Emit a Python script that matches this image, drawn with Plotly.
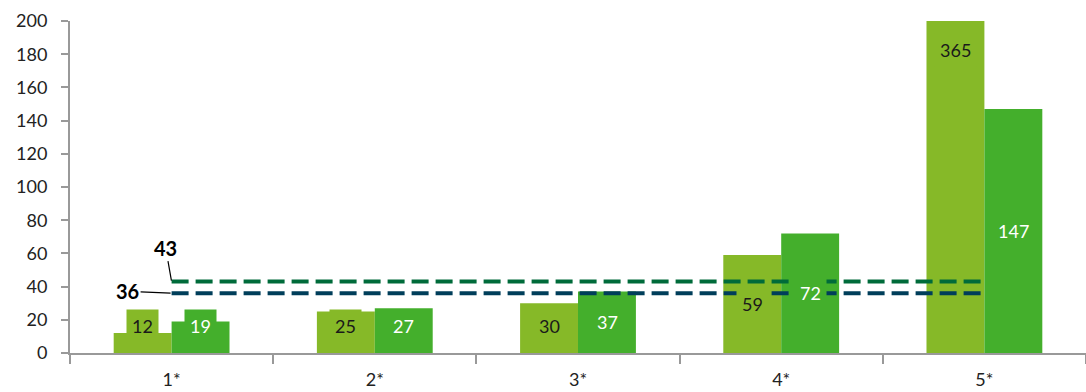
import plotly.graph_objects as go

categories = ["1*", "2*", "3*", "4*", "5*"]
series_a = [12, 25, 30, 59, 365]
series_b = [19, 27, 37, 72, 147]
line_high = 43
line_low = 36
y_ticks = [0, 20, 40, 60, 80, 100, 120, 140, 160, 180, 200]

col_a = "#86B928"
col_b = "#44AF2C"
col_high = "#006B3A"
col_low = "#003E5A"
FONT = "Lato"

fig = go.Figure()
fig.add_trace(go.Bar(x=categories, y=series_a, marker=dict(color=col_a, line=dict(width=0)), name="A"))
fig.add_trace(go.Bar(x=categories, y=series_b, marker=dict(color=col_b, line=dict(width=0)), name="B"))
fig.add_trace(go.Scatter(x=categories, y=[line_high] * len(categories), mode="lines",
                         line=dict(color=col_high, width=4, dash="17px,7px"), name="high"))
fig.add_trace(go.Scatter(x=categories, y=[line_low] * len(categories), mode="lines",
                         line=dict(color=col_low, width=4, dash="17px,7px"), name="low"))

min_label = 16
for i, c in enumerate(categories):
    for vals, shift, bg, fc in [(series_a, -29, col_a, "#1a1a1a"), (series_b, 29, col_b, "#ffffff")]:
        v = vals[i]
        fig.add_annotation(x=c, y=max(v / 2, min_label), text=str(v), showarrow=False,
                           xshift=shift, bgcolor=bg, borderpad=5,
                           font=dict(family=FONT, size=18, color=fc))

fig.add_annotation(x=categories[0], y=line_high, text="<b>43</b>", showarrow=True, arrowhead=0,
                   arrowwidth=1.2, arrowcolor="#000", ax=-6, ay=-34, standoff=1,
                   font=dict(family=FONT, size=20, color="#000"))
fig.add_annotation(x=categories[0], y=line_low, text="<b>36</b>", showarrow=True, arrowhead=0,
                   arrowwidth=1.2, arrowcolor="#000", ax=-44, ay=-2, standoff=1,
                   font=dict(family=FONT, size=20, color="#000"))

fig.update_layout(
    width=1086, height=392,
    margin=dict(l=70, r=0, t=21, b=39, autoexpand=False),
    plot_bgcolor="white", paper_bgcolor="white",
    barmode="group", bargap=0.43, bargroupgap=0,
    showlegend=False,
    font=dict(family=FONT, size=18, color="#222"),
)
fig.update_xaxes(showline=True, linecolor="#999", linewidth=2, ticks="outside",
                 tickson="boundaries", ticklen=9, tickcolor="#999", tickwidth=2,
                 showgrid=False, automargin=False, ticklabelstandoff=9,
                 tickfont=dict(family=FONT, size=18, color="#222"))
fig.update_yaxes(range=[0, 200], tickvals=y_ticks, showline=True, linecolor="#999",
                 linewidth=2, ticks="outside", ticklen=7, tickcolor="#999", tickwidth=1.5,
                 showgrid=False, zeroline=False, ticklabelstandoff=10, automargin=False,
                 tickfont=dict(family=FONT, size=18, color="#222"))

fig.write_html("out.html", config={"displayModeBar": False},
               post_script="document.body.style.margin='0';document.body.style.overflow='hidden';")
